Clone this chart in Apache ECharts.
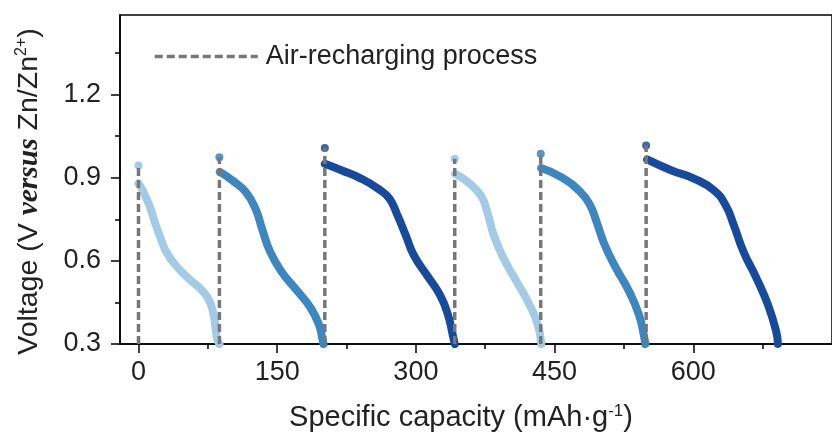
<!DOCTYPE html>
<html>
<head>
<meta charset="utf-8">
<script src="https://cdn.jsdelivr.net/npm/echarts@6.0.0/dist/echarts.min.js"></script>
<style>
  html, body { margin: 0; padding: 0; background: #fff; }
  #chart { width: 832px; height: 437px; }
</style>
</head>
<body>
<div id="chart"></div>
<script>
// discharge curves, capacity (mAh/g) vs voltage (V)
const cap1 = [0, 4.6, 11.7, 18.7, 24.0, 30.0, 39.9, 54.0, 66.4, 75.2, 80.5, 83.3, 85, 87.5];
const volt1 = [0.879, 0.854, 0.80, 0.729, 0.681, 0.633, 0.585, 0.537, 0.501, 0.465, 0.417, 0.357, 0.32, 0.3];
const cap2 = [88, 101.7, 115.8, 126.4, 133.5, 142.3, 154.7, 172.3, 186.4, 195.2, 198.8, 200];
const volt2 = [0.921, 0.89, 0.849, 0.789, 0.717, 0.633, 0.561, 0.489, 0.429, 0.369, 0.32, 0.3];
const cap3 = [201.5, 220, 241.2, 258.8, 271.2, 280, 288.9, 297.7, 311.8, 326, 334.7, 340, 342];
const volt3 = [0.95, 0.926, 0.896, 0.861, 0.825, 0.765, 0.693, 0.621, 0.549, 0.477, 0.405, 0.33, 0.3];
const cap4 = [342.5, 355.9, 370, 377.1, 384.2, 394.8, 408.9, 423, 431.9, 435.5];
const volt4 = [0.914, 0.885, 0.837, 0.777, 0.693, 0.609, 0.525, 0.441, 0.369, 0.3];
const cap5 = [435.5, 456.6, 477.8, 488.3, 495.4, 504.2, 516.6, 530.7, 541.3, 546.6, 548];
const volt5 = [0.935, 0.903, 0.849, 0.801, 0.741, 0.657, 0.573, 0.489, 0.405, 0.33, 0.3];
const cap6 = [550, 576.6, 601.4, 622.5, 634.9, 643.8, 654.3, 668.4, 680.8, 689.6, 691.5];
const volt6 = [0.966, 0.926, 0.896, 0.854, 0.801, 0.729, 0.633, 0.537, 0.441, 0.346, 0.3];

// air-recharging: rest voltage reached before each discharge
const restCap = [0, 87.5, 201.5, 342, 435, 549];
const restVolt = [0.944, 0.974, 1.007, 0.968, 0.986, 1.016];

const xTicks = [0, 150, 300, 450, 600];
const xMinor = [75, 225, 375, 525, 675];
const yTicks = [0.3, 0.6, 0.9, 1.2];
const yMinor = [0.45, 0.75, 1.05, 1.35];

const light = '#a3cbe5', mid = '#3d86bf', dark = '#184a9b';
const curveColors = [light, mid, dark, light, mid, dark];
const dotColors = ['#8dbfe0', '#2f79b3', '#123f8c', '#8dbfe0', '#2f79b3', '#123f8c'];

const font = "'Liberation Sans', Arial, sans-serif";
const caps = [cap1, cap2, cap3, cap4, cap5, cap6];
const volts = [volt1, volt2, volt3, volt4, volt5, volt6];

const dash = [8, 4];

const series = [];
caps.forEach((c, i) => {
  series.push({
    name: 'cycle' + (i + 1),
    type: 'line',
    smooth: 0.5,
    symbol: 'none',
    z: 2,
    lineStyle: { color: curveColors[i], width: 8, cap: 'round', join: 'round' },
    data: c.map((x, k) => [x, volts[i][k]])
  });
});
series.push({
  name: 'rest',
  type: 'scatter',
  symbolSize: 8,
  z: 3,
  itemStyle: { color: (p) => dotColors[p.dataIndex] },
  data: restCap.map((x, i) => [x, restVolt[i]])
});
restCap.forEach((x, i) => {
  series.push({
    name: 'Air-recharging process',
    type: 'line',
    symbol: 'none',
    z: 4,
    color: '#777',
    lineStyle: { color: '#777', width: 3.5, type: dash },
    data: [[x, 0.3], [x, restVolt[i]]]
  });
});

const axisLine = { show: true, onZero: false, lineStyle: { color: '#000', width: 1.5 } };
const tickStyle = { color: '#000', width: 1.5 };

const option = {
  animation: false,
  backgroundColor: '#fff',
  grid: {
    left: 120, right: -15, top: 15, bottom: 91,
    show: true, borderColor: '#000', borderWidth: 1.5
  },
  legend: {
    data: ['Air-recharging process'],
    left: 148, top: 38,
    itemWidth: 103, itemHeight: 14,
    itemStyle: { color: 'rgba(0,0,0,0)', borderWidth: 0 },
    lineStyle: { color: '#777', width: 3.5, type: dash },
    textStyle: { fontSize: 27, fontFamily: font, color: '#222', padding: [0, 0, 0, 3] }
  },
  xAxis: [{
    type: 'value', min: -20, max: 750,
    axisLine: axisLine,
    splitLine: { show: false },
    axisTick: { show: true, customValues: xTicks, length: 9, lineStyle: tickStyle },
    axisLabel: { customValues: xTicks, fontSize: 27, fontFamily: font, color: '#222', margin: 15 },
    name: 'Specific capacity (mAh·g{sup|-1})',
    nameLocation: 'middle',
    nameGap: 59,
    nameTextStyle: {
      fontSize: 29, fontFamily: font, color: '#222', padding: [0, 30, 0, 0],
      rich: { sup: { fontSize: 17, verticalAlign: 'top', fontFamily: font, color: '#222' } }
    }
  }, {
    type: 'value', min: -20, max: 750, position: 'bottom',
    axisLine: { show: false, onZero: false },
    splitLine: { show: false },
    axisTick: { show: true, customValues: xMinor, length: 5, lineStyle: tickStyle },
    axisLabel: { show: false }
  }],
  yAxis: [{
    type: 'value', min: 0.3, max: 1.487,
    axisLine: axisLine,
    splitLine: { show: false },
    axisTick: { show: true, customValues: yTicks, length: 9, lineStyle: tickStyle },
    axisLabel: { customValues: yTicks, fontSize: 27, fontFamily: font, color: '#222', margin: 19,
      formatter: (v) => v.toFixed(1) },
    name: 'Voltage (V {b|versus} Zn/Zn{sup|2+})',
    nameLocation: 'middle',
    nameRotate: 90,
    nameGap: 76,
    nameTextStyle: {
      fontSize: 28.5, fontFamily: font, color: '#222', padding: [0, 24, 0, 0],
      rich: {
        b: { fontFamily: "'Liberation Serif', 'DejaVu Serif', serif", fontStyle: 'italic', fontWeight: 'bold', fontSize: 29.5, color: '#222' },
        sup: { fontSize: 16, verticalAlign: 'top', fontFamily: font, color: '#222' }
      }
    }
  }, {
    type: 'value', min: 0.3, max: 1.487, position: 'left',
    axisLine: { show: false, onZero: false },
    splitLine: { show: false },
    axisTick: { show: true, customValues: yMinor, length: 5, lineStyle: tickStyle },
    axisLabel: { show: false }
  }],
  series: series
};

const chart = echarts.init(document.getElementById('chart'));
chart.setOption(option);
</script>
</body>
</html>
